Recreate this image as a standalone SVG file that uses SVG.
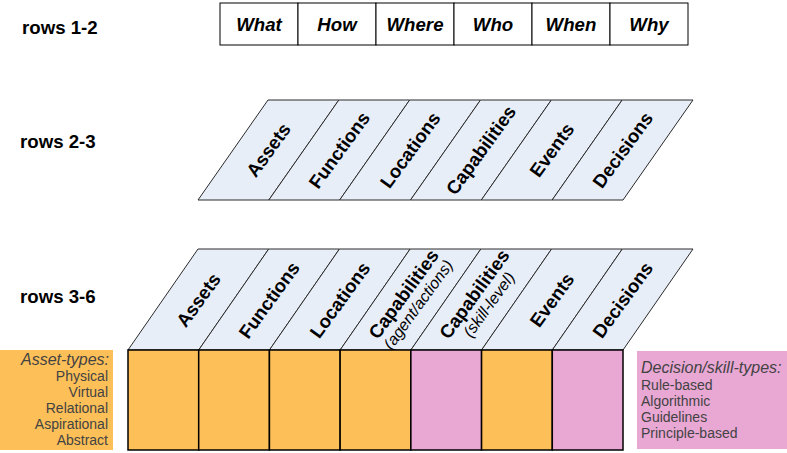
<svg xmlns="http://www.w3.org/2000/svg" width="787" height="453" viewBox="0 0 787 453">
<style>
.lbl{font-family:"Liberation Sans",Arial,sans-serif;font-weight:bold;font-size:18.67px;fill:#000}
.hdr{font-family:"Liberation Sans",Arial,sans-serif;font-weight:bold;font-style:italic;font-size:18.67px;fill:#000;text-anchor:middle}
.hcell{fill:#fff;stroke:#000;stroke-width:1}
.para{fill:#e8eef8;stroke:#2a2a2a;stroke-width:1}
.pt{font-family:"Liberation Sans",Arial,sans-serif;font-weight:bold;font-size:18.67px;fill:#000;text-anchor:middle}
.ps{font-family:"Liberation Sans",Arial,sans-serif;font-style:italic;font-size:16px;fill:#000;text-anchor:middle}
.or{fill:#fdbf57;stroke:#000;stroke-width:1.5}
.pk{fill:#e9a7d4;stroke:#000;stroke-width:1.5}
.sh{font-family:"Liberation Sans",Arial,sans-serif;font-style:italic;font-size:16px;fill:#434343}
.si{font-family:"Liberation Sans",Arial,sans-serif;font-size:14px;fill:#434343}
</style>

<g id="row-labels">
<text class="lbl" x="22" y="34">rows 1-2</text>
<text class="lbl" x="20" y="148">rows 2-3</text>
<text class="lbl" x="20" y="303">rows 3-6</text>
</g>

<g id="header-row">
<rect class="hcell" x="220" y="3" width="78" height="42"/>
<rect class="hcell" x="298" y="3" width="78" height="42"/>
<rect class="hcell" x="376" y="3" width="78" height="42"/>
<rect class="hcell" x="454" y="3" width="78" height="42"/>
<rect class="hcell" x="532" y="3" width="78" height="42"/>
<rect class="hcell" x="610" y="3" width="78" height="42"/>
<text class="hdr" x="259" y="31">What</text>
<text class="hdr" x="337" y="31">How</text>
<text class="hdr" x="415" y="31">Where</text>
<text class="hdr" x="493" y="31">Who</text>
<text class="hdr" x="571" y="31">When</text>
<text class="hdr" x="649" y="31">Why</text>
</g>

<g id="rows-2-3">
<g id="r23-assets"><polygon class="para" points="198,200 268.83,200 338.83,100 268,100"/><text class="pt" transform="translate(268.4,150) rotate(-54)" dy="0.35em">Assets</text></g>
<g id="r23-functions"><polygon class="para" points="268.83,200 339.67,200 409.67,100 338.83,100"/><text class="pt" transform="translate(339.25,150) rotate(-54)" dy="0.35em">Functions</text></g>
<g id="r23-locations"><polygon class="para" points="339.67,200 410.5,200 480.5,100 409.67,100"/><text class="pt" transform="translate(410.1,150) rotate(-54)" dy="0.35em">Locations</text></g>
<g id="r23-capabilities"><polygon class="para" points="410.5,200 481.33,200 551.33,100 480.5,100"/><text class="pt" transform="translate(480.9,150) rotate(-54)" dy="0.35em">Capabilities</text></g>
<g id="r23-events"><polygon class="para" points="481.33,200 552.17,200 622.17,100 551.33,100"/><text class="pt" transform="translate(551.75,150) rotate(-54)" dy="0.35em">Events</text></g>
<g id="r23-decisions"><polygon class="para" points="552.17,200 623,200 693,100 622.17,100"/><text class="pt" transform="translate(622.6,150) rotate(-54)" dy="0.35em">Decisions</text></g>
</g>

<g id="rows-3-6">
<g id="r36-assets"><polygon class="para" points="128,350 198.71,350 268.71,249 198,249"/><text class="pt" transform="translate(198.4,300) rotate(-54)" dy="0.35em">Assets</text></g>
<g id="r36-functions"><polygon class="para" points="198.71,350 269.43,350 339.43,249 268.71,249"/><text class="pt" transform="translate(269.1,300) rotate(-54)" dy="0.35em">Functions</text></g>
<g id="r36-locations"><polygon class="para" points="269.43,350 340.14,350 410.14,249 339.43,249"/><text class="pt" transform="translate(339.8,300) rotate(-54)" dy="0.35em">Locations</text></g>
<g id="r36-capabilities-agent"><polygon class="para" points="340.14,350 410.86,350 480.86,249 410.14,249"/><g transform="translate(410.5,299) rotate(-54)"><text class="pt" x="0" y="-2">Capabilities</text><text class="ps" x="0" y="15">(agent/actions)</text></g></g>
<g id="r36-capabilities-skill"><polygon class="para" points="410.86,350 481.57,350 551.57,249 480.86,249"/><g transform="translate(481.2,299) rotate(-54)"><text class="pt" x="0" y="-2">Capabilities</text><text class="ps" x="0" y="15">(skill-level)</text></g></g>
<g id="r36-events"><polygon class="para" points="481.57,350 552.29,350 622.29,249 551.57,249"/><text class="pt" transform="translate(551.9,300) rotate(-54)" dy="0.35em">Events</text></g>
<g id="r36-decisions"><polygon class="para" points="552.29,350 623,350 693,249 622.29,249"/><text class="pt" transform="translate(622.6,300) rotate(-54)" dy="0.35em">Decisions</text></g>
</g>

<g id="grid">
<rect class="or" x="128" y="350" width="70.71" height="100"/>
<rect class="or" x="198.71" y="350" width="70.72" height="100"/>
<rect class="or" x="269.43" y="350" width="70.71" height="100"/>
<rect class="or" x="340.14" y="350" width="70.72" height="100"/>
<rect class="pk" x="410.86" y="350" width="70.71" height="100"/>
<rect class="or" x="481.57" y="350" width="70.72" height="100"/>
<rect class="pk" x="552.29" y="350" width="70.71" height="100"/>
</g>

<g id="asset-types">
<rect x="0" y="350" width="113" height="100" fill="#fdbf57"/>
<text class="sh" x="109" y="365" text-anchor="end">Asset-types:</text>
<text class="si" x="108" y="381" text-anchor="end">Physical</text>
<text class="si" x="108" y="397" text-anchor="end">Virtual</text>
<text class="si" x="108" y="413" text-anchor="end">Relational</text>
<text class="si" x="108" y="429" text-anchor="end">Aspirational</text>
<text class="si" x="108" y="445" text-anchor="end">Abstract</text>
</g>

<g id="decision-types">
<rect x="637" y="351" width="150" height="98" fill="#e9a7d4"/>
<text class="sh" x="641" y="373">Decision/skill-types:</text>
<text class="si" x="641" y="390">Rule-based</text>
<text class="si" x="641" y="406">Algorithmic</text>
<text class="si" x="641" y="422">Guidelines</text>
<text class="si" x="641" y="438">Principle-based</text>
</g>
</svg>
